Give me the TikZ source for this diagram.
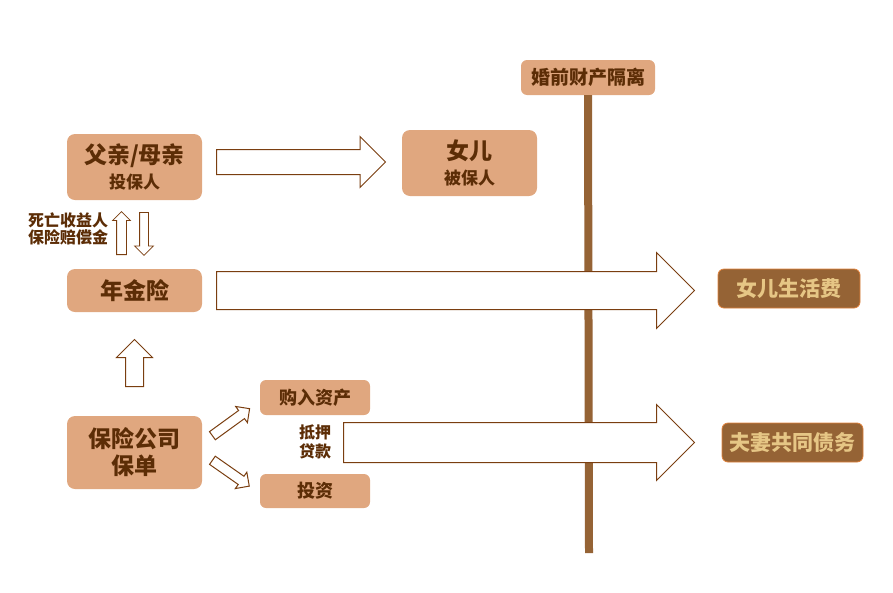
\documentclass[tikz,border=0pt]{standalone}
\usepackage{fontspec}
\setmainfont{Noto Sans CJK SC}
\usepackage{tikz}
\usetikzlibrary{shapes.arrows}
\definecolor{boxfill}{HTML}{E0A77F}
\definecolor{inktext}{HTML}{5C2D06}
\definecolor{arrowline}{HTML}{7A3E10}
\definecolor{barline}{HTML}{956335}
\definecolor{goldtext}{HTML}{E6C685}
\definecolor{edgeorange}{HTML}{E0823C}

\begin{document}
\begin{tikzpicture}
        [
            x = 1pt, y = -1pt,
            box/.style = {fill = boxfill, rounded corners = 8pt, text = inktext, align = center, inner sep = 0pt},
            endbox/.style = {fill = barline, draw = edgeorange, line width = 0.8pt, rounded corners = 6pt, text = goldtext, inner sep = 0pt, font = \bfseries\fontsize{21}{24}\selectfont},
            fat/.style 2 args = {single arrow, draw = arrowline, fill = white, line width = 1pt, inner xsep = 0pt, inner ysep = #1, single arrow head extend = #2, anchor = tail},
            note/.style = {text = inktext, align = center, inner sep = 0pt}
        ]

        \useasboundingbox (0,0) rectangle (893,592);

        \node[box, rounded corners = 6pt, minimum width = 134pt, minimum height = 35pt, font = \bfseries\fontsize{19}{22}\selectfont] (split) at (588,77.5) {婚前财产隔离};
        \coordinate (barend) at (589,553);
        \draw[barline, line width = 8pt] (split.south) -- (barend);

        \node[box, minimum width = 135pt, minimum height = 66pt, font = \bfseries\fontsize{17}{25}\selectfont] (parent) at (134.5,167) {{\fontsize{23}{25}\selectfont 父亲/母亲}\\投保人};
        \node[box, minimum width = 135pt, minimum height = 66pt, font = \bfseries\fontsize{17}{25}\selectfont] (daughter) at (469.5,163) {{\fontsize{23}{25}\selectfont 女儿}\\被保人};
        \node[box, minimum width = 135pt, minimum height = 43pt, font = \bfseries\fontsize{23}{25}\selectfont] (annuity) at (134.5,290.5) {年金险};
        \node[box, minimum width = 135pt, minimum height = 73pt, font = \bfseries\fontsize{23}{27}\selectfont] (policy) at (134.5,452.5) {保险公司\\保单};
        \node[box, rounded corners = 6pt, minimum width = 110pt, minimum height = 35pt, font = \bfseries\fontsize{18}{22}\selectfont] (buy) at (315,397.5) {购入资产};
        \node[box, rounded corners = 6pt, minimum width = 110pt, minimum height = 34pt, font = \bfseries\fontsize{18}{22}\selectfont] (invest) at (315,491) {投资};

        \node[endbox, minimum width = 142pt, minimum height = 39pt] (living) at (789,288.5) {女儿生活费};
        \node[endbox, minimum width = 141pt, minimum height = 39pt] (debt) at (792.5,442.5) {夫妻共同债务};

        \node[note, font = \bfseries\fontsize{16}{17}\selectfont] (benefit) at (68,229) {死亡收益人\\保险赔偿金};
        \node[note, font = \bfseries\fontsize{16}{19}\selectfont] (loan) at (315,442) {抵押\\贷款};

        \node[fat = {12pt}{13pt}, minimum height = 169pt] (a1) at (216,162) {};
        \node[fat = {18.5pt}{19pt}, minimum height = 478pt] (a2) at (216,290.5) {};
        \node[fat = {19.5pt}{18pt}, minimum height = 351pt] (a3) at (343,442.5) {};

        \node[fat = {4.5pt}{4pt}, line width = 0.8pt, minimum height = 43pt, rotate = 90] (up1) at (121.5,255) {};
        \node[fat = {4pt}{5pt}, line width = 0.8pt, minimum height = 43pt, rotate = -90] (down1) at (144,212) {};
        \node[fat = {8.5pt}{9pt}, minimum height = 47pt, rotate = 90] (up2) at (134.5,387) {};
        \node[fat = {4.5pt}{5pt}, minimum height = 46pt, rotate = 36] (d1) at (212,436) {};
        \node[fat = {4.5pt}{5pt}, minimum height = 45pt, rotate = -35] (d2) at (212,460) {};
\end{tikzpicture}
\end{document}
